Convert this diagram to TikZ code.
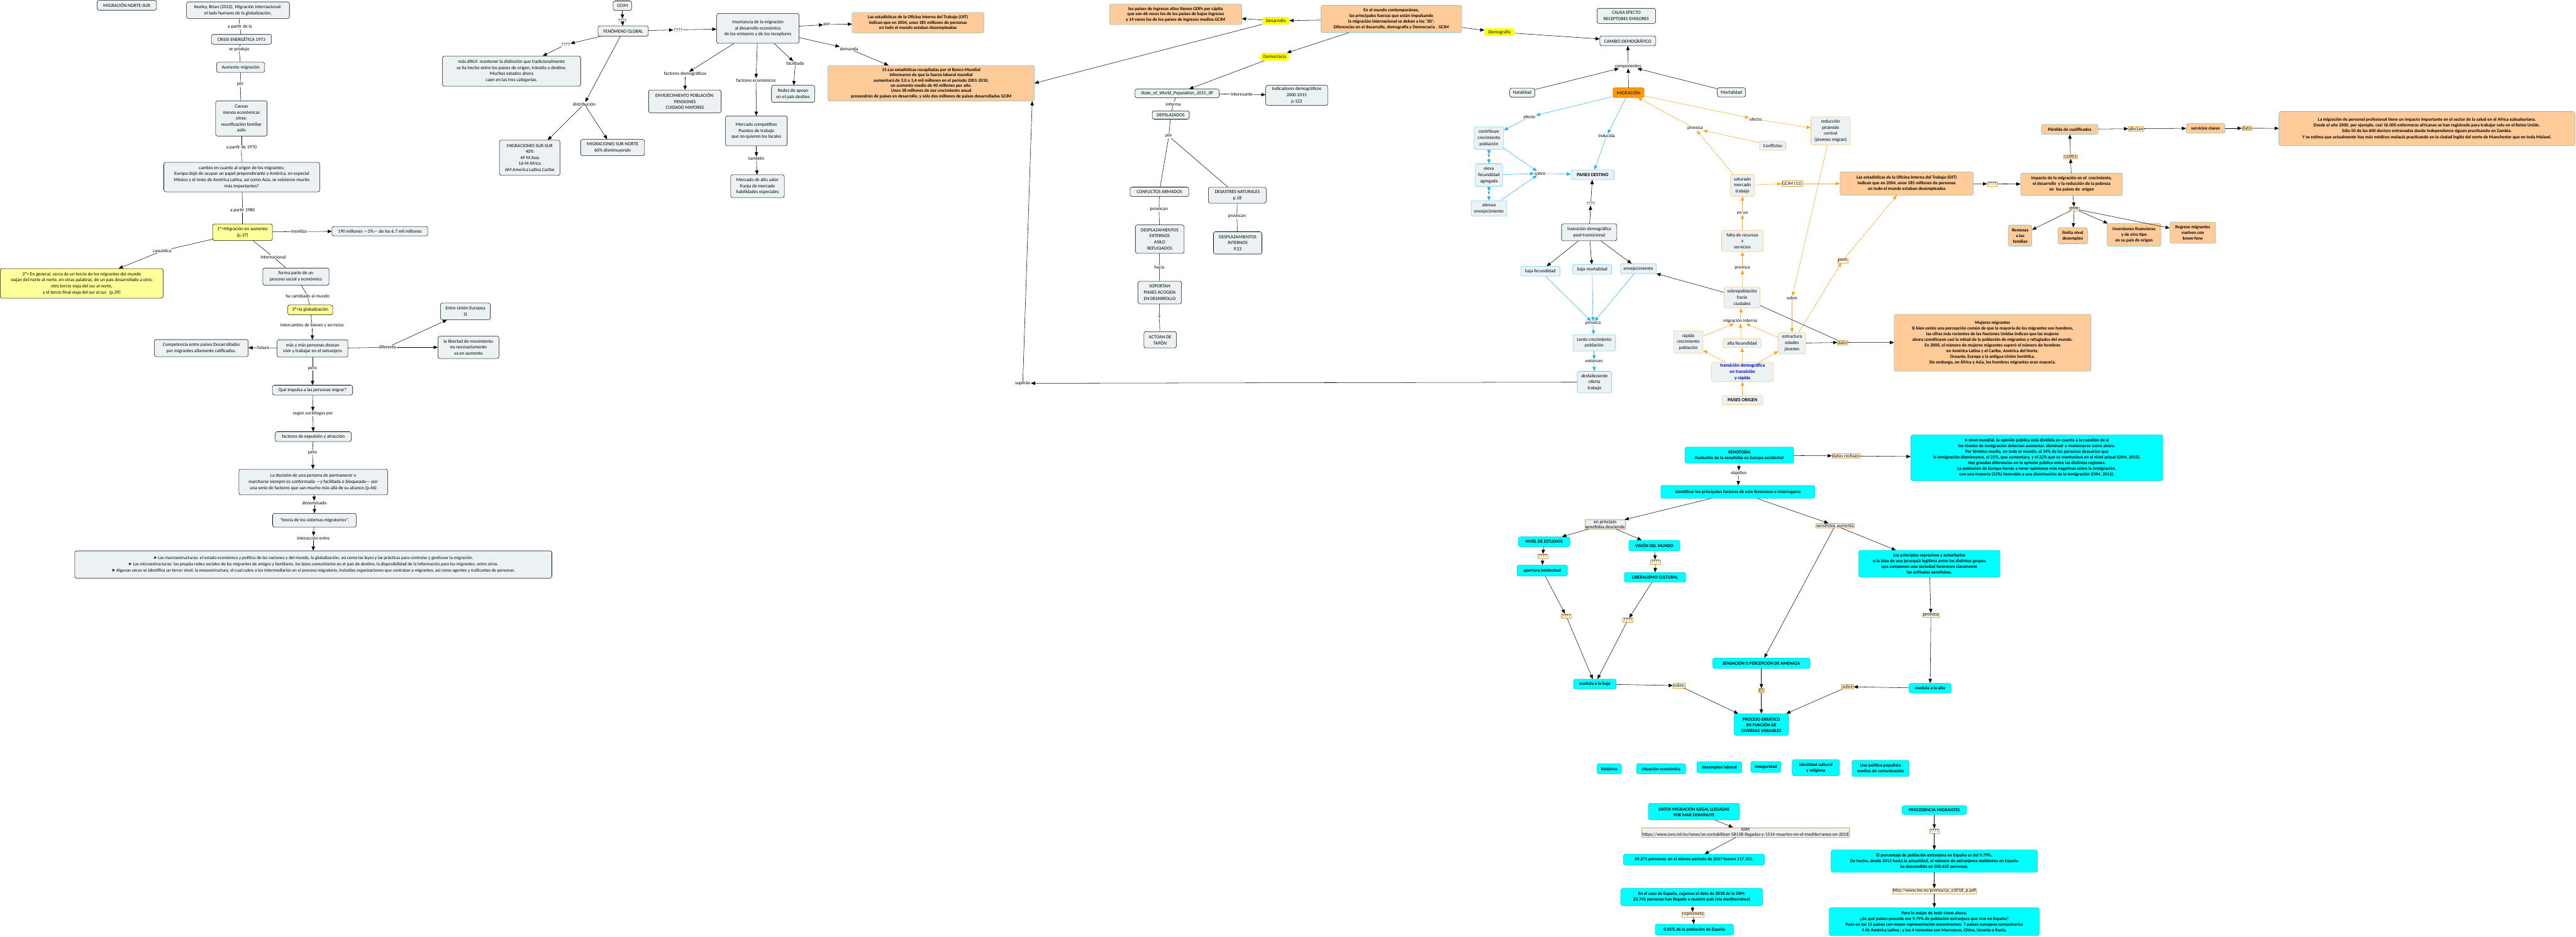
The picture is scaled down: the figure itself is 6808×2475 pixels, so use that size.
\documentclass[tikz,border=0pt]{standalone}
\usepackage{fontspec}
\setmainfont{Carlito}
\newfontfamily\symfont{DejaVu Sans}
\usetikzlibrary{arrows.meta}

\begin{document}
\begin{tikzpicture}[x=1pt,y=-1pt]

	% ============================================================
	% COLORS
	% ============================================================
	\definecolor{paleBlue}{HTML}{ECF2F4}
	\definecolor{paleYellow}{HTML}{FFFF99}
	\definecolor{brightYellow}{HTML}{FFFF00}
	\definecolor{peach}{HTML}{FFCC99}
	\definecolor{tealStroke}{HTML}{5BC0C8}
	\definecolor{cyanFill}{HTML}{00FFFF}
	\definecolor{cyanStroke}{HTML}{00C8D8}
	\definecolor{blueLine}{HTML}{1FB5F0}
	\definecolor{orangeLine}{HTML}{FFA31A}
	\definecolor{blueStroke}{HTML}{5BCBF5}
	\definecolor{orangeStroke}{HTML}{FFC45C}
	\definecolor{migFill}{HTML}{FF9900}
	\definecolor{migStroke}{HTML}{B86E00}
	\definecolor{tagFill}{HTML}{FFFFF2}
	\definecolor{tagStroke}{HTML}{E6A23C}
	\definecolor{deepBlue}{HTML}{0000CC}

	% ============================================================
	% STYLES
	% ============================================================
	\tikzset{
		sz/.style 2 args={minimum width=#1pt, minimum height=#2pt},
		base/.style={rounded corners=5pt, align=center, inner sep=2pt, line width=0.9pt,
			font=\fontsize{12.5}{16}\selectfont},
		gbox/.style={base, draw=black, fill=paleBlue},
		ybox/.style={gbox, fill=paleYellow},
		hbox/.style={base, draw=none, fill=brightYellow},
		bbox/.style={gbox, draw=blueStroke},
		rbox/.style={gbox, draw=orangeStroke},
		migbox/.style={base, draw=migStroke, fill=migFill},
		obox/.style={base, draw=tealStroke, fill=peach, font=\bfseries\fontsize{12}{15}\selectfont},
		cbox/.style={base, draw=cyanStroke, fill=cyanFill, font=\bfseries\fontsize{12}{15}\selectfont},
		lbl/.style={fill=white, inner sep=1pt, align=center, font=\fontsize{12.5}{15}\selectfont},
		tag/.style={lbl, draw=tagStroke, fill=tagFill, inner sep=1.5pt, line width=0.6pt},
		gtag/.style={tag, fill=paleBlue},
		ln/.style={line width=0.9pt, draw=black},
		arr/.style={ln, -{Triangle[length=11pt,width=9pt]}},
		barr/.style={arr, draw=blueLine},
		oarr/.style={arr, draw=orangeLine}
	}

	\useasboundingbox (0,0) rectangle (6808,2475);

	% ============================================================
	% LEFT TREE - NORTE-SUR
	% ============================================================
	\node[gbox, sz={157}{26}] (nortesur) at (335,14) {MIGRACIÓN NORTE-SUR};
	\node[gbox, sz={272}{44}] (keeley) at (629,27) {Keeley, Brian (2012), Migración internacional:\\el lado humano de la globalización,};
	\node[gbox, sz={159}{26}] (crisis) at (638,104) {CRISIS ENERGÉTICA 1973};
	\node[gbox, sz={127}{27}] (aumento) at (636,178) {Aumento migración};
	\node[gbox, sz={136}{93}] (causas) at (638,313) {Causas\\menos económicas\\otras:\\reunificación familiar\\asilo};
	\node[gbox, sz={412}{78}] (origen) at (639,468) {cambio en cuanto al origen de los migrantes:\\Europa dejó de ocupar un papel preponderante y América, en especial\\México y el resto de América Latina, así como Asia, se volvieron mucho\\más importantes?};
	\node[ybox, sz={158}{44}] (primero) at (641,614) {1º=Migración en aumento\\(p.37)};
	\node[gbox, sz={253}{25}] (millones) at (1004,611) {190 millones —3\%— de los 6.7 mil millones};
	\node[ybox, sz={431}{78}] (segundo) at (216,749) {2º= En general, cerca de un tercio de los migrantes del mundo\\viajan del norte al norte, en otras palabras, de un país desarrollado a otro;\\otro tercio viaja del sur al norte,\\y el tercio final viaja del sur al sur.\ \ (p.39)};
	\node[gbox, sz={175}{45}] (proceso) at (782,731) {forma parte de un\\proceso social y económico};
	\node[ybox, sz={119}{26}] (tercero) at (820,819) {3º=la globalización};
	\node[gbox, sz={187}{46}] (desean) at (826,921) {más y más personas desean\\vivir y trabajar en el extranjero};
	\node[gbox, sz={248}{45}] (competencia) at (532,920) {Competencia entre paises Desarrollados\\por migrantes altamente calificados.};
	\node[gbox, sz={132}{44}] (ue) at (1230,823) {Entre Unión Europea\\SI};
	\node[gbox, sz={161}{59}] (libertad) at (1238,918) {la libertad de movimiento\\no necesariamente\\va en aumento};
	\node[gbox, sz={212}{26}] (impulsa) at (826,1031) {Qué impulsa a las personas migrar?};
	\node[gbox, sz={201}{26}] (factores) at (828,1154) {factores de expulsión y atracción};
	\node[gbox, sz={393}{68}] (decision) at (828,1274) {La decisión de una persona de permanecer o\\marcharse siempre es conformada —y facilitada o bloqueada— por\\una serie de factores que van mucho más allá de su alcance.(p.46)};
	\node[gbox, sz={221}{36}] (teoria) at (831,1375) {“teoría de los sistemas migratorios”.};
	\node[gbox, sz={1261}{72}, font=\fontsize{12}{16.5}\selectfont] (estructuras) at (828,1492) {{\symfont ➤} Las macroestructuras: el estado económico y político de las naciones y del mundo, la globalización, así como las leyes y las prácticas para controlar y gestionar la migración.\\{\symfont ➤} Las microestructuras: las propias redes sociales de los migrantes de amigos y familiares, los lazos comunitarios en el país de destino, la disponibilidad de la información para los migrantes, entre otras.\\{\symfont ➤} Algunas veces se identifica un tercer nivel, la mesoestructura, el cual cubre a los intermediarios en el proceso migratorio, incluidas organizaciones que contratan a migrantes, así como agentes y traficantes de personas.};

	% LABELS - LEFT TREE
	\node[lbl] (lA) at (634,70) {a partir de la};
	\node[lbl] (lB) at (632,130) {se produjo};
	\node[lbl] (lC) at (635,224) {por};
	\node[lbl] (lD) at (638,390) {a partir de 1970};
	\node[lbl] (lE) at (641,556) {a partir 1980};
	\node[lbl] (lF) at (790,612) {moviliza};
	\node[lbl] (lG) at (429,663) {casuística};
	\node[lbl] (lH) at (722,679) {internacional};
	\node[lbl] (lI) at (813,782) {ha cambiado al mundo};
	\node[lbl] (lJ) at (825,860) {intercambio de bienes y servicios};
	\node[lbl] (lK) at (696,919) {futuro};
	\node[lbl] (lL) at (1024,918) {diferente};
	\node[lbl] (lM) at (826,974) {pero};
	\node[lbl] (lN) at (827,1093) {según sociólogos por};
	\node[lbl] (lO) at (826,1197) {pero};
	\node[lbl] (lP) at (831,1329) {denominado};
	\node[lbl] (lQ) at (828,1422) {interacción entre};

	% ARROWS - LEFT TREE
	\draw[ln] (keeley) -- (lA); \draw[ln] (lA) -- (crisis);
	\draw[ln] (crisis) -- (lB); \draw[ln] (lB) -- (aumento);
	\draw[ln] (aumento) -- (lC); \draw[ln] (lC) -- (causas);
	\draw[ln] (causas) -- (lD); \draw[ln] (lD) -- (origen);
	\draw[ln] (origen) -- (lE); \draw[ln] (lE) -- (primero);
	\draw[ln] (primero) -- (lF); \draw[arr] (lF) -- (millones);
	\draw[ln] (primero) -- (lG); \draw[arr] (lG) -- (segundo);
	\draw[ln] (primero) -- (lH); \draw[ln] (lH) -- (proceso);
	\draw[ln] (proceso) -- (lI); \draw[ln] (lI) -- (tercero);
	\draw[ln] (tercero) -- (lJ); \draw[arr] (lJ) -- (desean);
	\draw[ln] (desean) -- (lK); \draw[arr] (lK) -- (competencia);
	\draw[ln] (desean) -- (lL); \draw[arr] (lL) -- (ue); \draw[arr] (lL) -- (libertad);
	\draw[ln] (desean) -- (lM); \draw[arr] (lM) -- (impulsa);
	\draw[arr] (impulsa) -- (lN); \draw[arr] (lN) -- (factores);
	\draw[ln] (factores) -- (lO); \draw[arr] (lO) -- (decision);
	\draw[arr] (decision) -- (lP); \draw[arr] (lP) -- (teoria);
	\draw[arr] (teoria) -- (lQ); \draw[arr] (lQ) -- (estructuras);

	% ============================================================
	% MIDDLE - FENOMENO GLOBAL
	% ============================================================
	\node[gbox, sz={49}{25}] (gcim) at (1645,15) {GCIM};
	\node[gbox, sz={133}{27}] (global) at (1647,82) {FENÓMENO GLOBAL};
	\node[gbox, sz={365}{80}] (distincion) at (1352,188) {más difícil\ \ mantener la distinción que tradicionalmente\\se ha hecho entre los países de origen, tránsito y destino.\\Muchos estados ahora\\caen en las tres categorías.};
	\node[gbox, sz={160}{93}] (sursur) at (1400,417) {MIGRACIONES SUR-SUR\\40\%\\49 M Asia\\16 M Africa\\6M America Latina Caribe};
	\node[gbox, sz={169}{43}] (surnorte) at (1619,390) {MIGRACIONES SUR-NORTE\\60\% disminuyendo};
	\node[gbox, sz={218}{79}] (importancia) at (2003,75) {Imortancia de la migración\\al desarrollo económico\\de los emisores y de los receptores};
	\node[gbox, sz={192}{60}] (envejec) at (1810,268) {ENVEJECIMIENTO POBLACIÓN:\\PENSIONES\\CUIDADO MAYORES};
	\node[gbox, sz={163}{79}] (competitivo) at (1999,346) {Mercado competitivo\\Puestos de trabajo\\que no quieren los locales};
	\node[gbox, sz={142}{60}] (altovalor) at (2002,492) {Mercado de alto valor\\franja de mercado\\habilidades especiales};
	\node[gbox, sz={114}{45}] (redes) at (2096,248) {Redes de apoyo\\en el pais destino};

	% LABELS - MIDDLE
	\node[lbl] (lm1) at (1645,55) {????};
	\node[lbl] (lm2) at (1495,118) {????};
	\node[lbl] (lm3) at (1544,275) {distribución};
	\node[lbl] (lm4) at (1792,79) {????};
	\node[lbl] (lm5) at (2185,65) {por};
	\node[lbl] (lm6) at (1811,196) {factores demográficos};
	\node[lbl] (lm7) at (1998,212) {factores económicos};
	\node[lbl] (lm8) at (1999,419) {también};
	\node[lbl] (lm9) at (2102,167) {facilitado};
	\node[lbl] (lm10) at (2244,129) {demanda};

	% ARROWS - MIDDLE
	\draw[arr] (gcim) -- (lm1); \draw[arr] (lm1) -- (global);
	\draw[arr] (global) -- (lm2); \draw[arr] (lm2) -- (distincion);
	\draw[arr] (global) -- (lm3); \draw[arr] (lm3) -- (sursur); \draw[arr] (lm3) -- (surnorte);
	\draw[arr] (global) -- (lm4); \draw[arr] (lm4) -- (importancia);
	\draw[arr] (importancia) -- (lm6); \draw[arr] (lm6) -- (envejec);
	\draw[arr] (importancia) -- (lm7); \draw[arr] (lm7) -- (competitivo);
	\draw[arr] (competitivo) -- (lm8); \draw[arr] (lm8) -- (altovalor);
	\draw[arr] (importancia) -- (lm9); \draw[arr] (lm9) -- (redes);

	% ============================================================
	% TOP - ESTADISTICAS (ORANGE) AND 3D
	% ============================================================
	\node[obox, sz={348}{54}, font=\bfseries\fontsize{12}{14}\selectfont] (oit) at (2426,60) {Las estadísticas de la Oficina Interna del Trabajo (OIT)\\indican que en 2004, unos 185 millones de personas\\en todo el mundo estaban desempleadas};
	\node[obox, sz={545}{94}, font=\bfseries\fontsize{12}{14}\selectfont] (banco) at (2461,220) {15.Las estadísticas recopiladas por el Banco Mundial\\informaron de que la fuerza laboral mundial\\aumentará de 3,0 a 3,4 mil millones en el período 2001-2010,\\un aumento medio de 40 millones por año.\\Unos 38 millones de ese crecimiento anual\\provendrán de países en desarrollo, y sólo dos millones de países desarrolladas GCIM};
	\node[obox, sz={349}{54}, font=\bfseries\fontsize{12}{14}\selectfont] (gdp) at (3107,38) {los países de ingresos altos tienen GDPs per cápita\\que son 66 veces los de los países de bajos ingresos\\y 14 veces los de los países de ingresos medios.GCIM};
	\node[obox, sz={372}{72}] (tresd) at (3677,50) {En el mundo contemporáneo,\\las principales fuerzas que están impulsando\\la migración internacional se deben a los '3D':\\Diferencias en el desarrollo, demografía y Democracia . GCIM};
	\node[hbox, sz={70}{20}] (desarrollo) at (3372,55) {Desarrollo};
	\node[hbox, sz={75}{20}] (democracia) at (3369,150) {Democracia};
	\node[hbox, sz={79}{20}] (demografia) at (3963,85) {Demografía};

	\draw[arr] (importancia) -- (lm5); \draw[arr] (lm5) -- (oit);
	\draw[arr] (importancia) -- (lm10); \draw[arr] (lm10) -- (banco);
	\draw[arr] (tresd) -- (desarrollo);
	\draw[arr] (desarrollo) -- (gdp);
	\draw[arr] (desarrollo) -- (banco.east);
	\draw[arr] (tresd) -- (democracia);
	\draw[arr] (tresd) -- (demografia);

	% ============================================================
	% DESPLAZADOS
	% ============================================================
	\node[gbox, sz={222}{23}] (sowp) at (3111,247) {State\_of\_World\_Population\_2015\_SP};
	\node[gbox, sz={164}{53}] (indicadores) at (3427,252) {Indicadores demográficos\\2000 2015\\p.122};
	\node[gbox, sz={98}{22}] (desplazados) at (3094,304) {DEPSLAZADOS};
	\node[gbox, sz={155}{25}] (conflictos) at (3064,507) {CONFLICTOS ARMADOS};
	\node[gbox, sz={153}{42}] (desastres) at (3270,516) {DESASTRES NATURALES\\p.18};
	\node[gbox, sz={129}{75}] (externos) at (3065,632) {DESPLAZAMIENTOS\\EXTERNOS\\ASILO\\REFUGIADOS};
	\node[gbox, sz={128}{59}] (internos) at (3271,642) {DESPLAZAMIENTOS\\INTERNOS\\P.23};
	\node[gbox, sz={115}{60}] (soportan) at (3065,773) {SOPORTAN\\PIASES ACOGIDA\\EN DESARROLLO};
	\node[gbox, sz={86}{43}] (tapon) at (3066,898) {ACTÚAN DE\\TAPÓN};

	\node[lbl] (ls1) at (3282,249) {interesante};
	\node[lbl] (ls2) at (3101,275) {informa};
	\node[lbl] (ls3) at (3089,360) {por};
	\node[lbl] (ls4) at (3063,554) {provocan};
	\node[lbl] (ls5) at (3269,573) {provocan};
	\node[lbl] (ls6) at (3064,706) {hacia};
	\node[lbl] (ls7) at (3064,838) {y};
	\node[lbl] (lsup) at (2703,1013) {suplirán};

	\draw[arr] (democracia) -- (sowp);
	\draw[ln] (sowp) -- (ls1); \draw[arr] (ls1) -- (indicadores);
	\draw[ln] (sowp) -- (ls2); \draw[ln] (ls2) -- (desplazados);
	\draw[ln] (desplazados) -- (ls3); \draw[ln] (ls3) -- (conflictos); \draw[ln] (ls3) -- (desastres);
	\draw[ln] (conflictos) -- (ls4); \draw[ln] (ls4) -- (externos);
	\draw[ln] (desastres) -- (ls5); \draw[ln] (ls5) -- (internos);
	\draw[ln] (externos) -- (ls6); \draw[ln] (ls6) -- (soportan);
	\draw[ln] (soportan) -- (ls7); \draw[ln] (ls7) -- (tapon);

	% ============================================================
	% RIGHT - CAMBIO DEMOGRAFICO
	% ============================================================
	\node[gbox, sz={155}{40}] (causaefecto) at (4298,42) {CAUSA EFECTO\\RECEPTORES EMISORES};
	\node[gbox, sz={148}{26}] (cambio) at (4302,108) {CAMBIO DEMOGRÁFICO};
	\node[gbox, sz={66}{24}] (natalidad) at (4023,245) {Natalidad};
	\node[migbox, sz={82}{26}] (migracion) at (4304,245) {MIGRACIÓN};
	\node[gbox, sz={75}{24}] (mortalidad) at (4576,244) {Mortalidad};
	\node[bbox, sz={78}{59}] (contribuye) at (3935,365) {contribuye\\crecimiento\\población};
	\node[bbox, sz={72}{60}] (eleva) at (3935,463) {eleva\\fecundidad\\agregada};
	\node[bbox, sz={94}{41}] (atenua) at (3935,551) {atenua\\envejecimiento};
	\node[bbox, sz={114}{26}, font=\bfseries\fontsize{12.5}{16}\selectfont] (destino) at (4209,462) {PAISES DESTINO};
	\node[gbox, sz={146}{45}] (posttrans) at (4200,614) {transición demográfica\\post-transicional};
	\node[bbox, sz={104}{26}] (bajafec) at (4071,717) {baja fecundidad};
	\node[bbox, sz={103}{26}] (bajamort) at (4208,712) {baja mortalidad};
	\node[bbox, sz={94}{26}] (envej) at (4330,710) {envejecimiento};
	\node[bbox, sz={112}{43}] (lento) at (4213,906) {Lento crecimiento\\población};
	\node[bbox, sz={91}{57}] (desfall) at (4214,1010) {desfalleciente\\oferta\\trabajo};
	\node[rbox, sz={104}{74}] (reduccion) at (4838,346) {reducción\\pirámide\\central\\(jóvenes migran)};
	\node[rbox, sz={69}{25}] (conflict) at (4685,385) {Conflictos};
	\node[rbox, sz={63}{58}] (saturado) at (4605,490) {saturado\\mercado\\trabajo};
	\node[rbox, sz={110}{56}] (falta) at (4605,637) {falta de recursos\\y\\servicios};
	\node[rbox, sz={95}{56}] (sobrepob) at (4604,786) {sobrepoblación\\hacia\\ciudades};
	\node[rbox, sz={78}{59}] (rapido) at (4462,904) {rápido\\crecimiento\\población};
	\node[rbox, sz={101}{24}] (altafec) at (4604,907) {alta fecundidad};
	\node[rbox, sz={72}{56}] (jovenes) at (4736,907) {estructura\\edades\\jóvenes};
	\node[rbox, sz={164}{51}, text=deepBlue, font=\bfseries\fontsize{12.5}{16}\selectfont] (rapida) at (4605,983) {transición demográfica\\en transición\\y rápida};
	\node[rbox, sz={108}{24}, font=\bfseries\fontsize{12.5}{16}\selectfont] (paisorigen) at (4605,1058) {PAISES ORIGEN};
	\node[obox, sz={352}{62}] (oit2) at (5039,485) {Las estadísticas de la Oficina Interna del Trabajo (OIT)\\indican que en 2004, unos 185 millones de personas\\en todo el mundo estaban desempleadas};
	\node[obox, sz={520}{150}] (mujeres) at (5266,906) {Mujeres migrantes\\Si bien existe una percepción común de que la mayoría de los migrantes son hombres,\\las cifras más recientes de las Naciones Unidas indican que las mujeres\\ahora constituyen casi la mitad de la población de migrantes y refugiados del mundo.\\En 2000, el número de mujeres migrantes superó el número de hombres\\en América Latina y el Caribe, América del Norte,\\Oceanía, Europa y la antigua Unión Soviética.\\Sin embargo, en África y Asia, los hombres migrantes eran mayoría.};

	% LABELS - RIGHT
	\node[lbl] (lr1) at (4303,175) {componentes};
	\node[lbl] (lr2) at (4042,309) {efecto};
	\node[lbl] (lr3) at (3935,413) {y};
	\node[lbl] (lr4) at (3935,511) {y};
	\node[lbl] (lr5) at (4070,458) {sobre};
	\node[lbl] (lr6) at (4246,359) {inducida};
	\node[lbl] (lr7) at (4204,538) {????};
	\node[lbl] (lr8) at (4210,854) {provoca};
	\node[lbl] (lr9) at (4213,955) {entonces};
	\node[lbl] (lr10) at (4640,315) {efecto};
	\node[lbl] (lr11) at (4480,340) {provoca};
	\node[tag] (lr12) at (4736,485) {GCIM (11)};
	\node[lbl] (lr13) at (4605,563) {en un};
	\node[lbl] (lr14) at (4605,708) {provoca};
	\node[lbl] (lr15) at (4599,849) {migración interna};
	\node[lbl] (lr16) at (4736,788) {sobre};
	\node[tag] (lr17) at (4870,689) {pero};
	\node[tag] (lr18) at (4869,905) {dato};

	% ARROWS - RIGHT
	\draw[arr] (demografia) -- (cambio);
	\draw[arr] (natalidad) -- (lr1); \draw[arr] (migracion) -- (lr1); \draw[arr] (mortalidad) -- (lr1);
	\draw[arr] (lr1) -- (cambio);
	\draw[barr] (migracion) -- (lr2); \draw[barr] (lr2) -- (contribuye);
	\draw[barr] (contribuye) -- (lr3); \draw[barr] (lr3) -- (eleva);
	\draw[barr] (eleva) -- (lr4); \draw[barr] (lr4) -- (atenua);
	\draw[barr] (contribuye) -- (lr5); \draw[barr] (eleva) -- (lr5); \draw[barr] (atenua) -- (lr5);
	\draw[barr] (lr5) -- (destino);
	\draw[barr] (migracion) -- (lr6); \draw[barr] (lr6) -- (destino);
	\draw[arr] (posttrans) -- (lr7); \draw[arr] (lr7) -- (destino);
	\draw[arr] (posttrans) -- (bajafec); \draw[arr] (posttrans) -- (bajamort); \draw[arr] (posttrans) -- (envej);
	\draw[barr] (bajafec) -- (lr8); \draw[barr] (bajamort) -- (lr8); \draw[barr] (envej) -- (lr8);
	\draw[barr] (lr8) -- (lento);
	\draw[barr] (lento) -- (lr9); \draw[barr] (lr9) -- (desfall);
	\draw[arr] (desfall) -- (lsup); \draw[arr] (lsup) -- ([xshift=-6pt]banco.south east);
	\draw[oarr] (migracion) -- (lr10); \draw[oarr] (lr10) -- (reduccion);
	\draw[oarr] (conflict) -- (lr11); \draw[oarr] (saturado) -- (lr11); \draw[oarr] (lr11) -- (migracion);
	\draw[oarr] (saturado) -- (lr12); \draw[oarr] (lr12) -- (oit2);
	\draw[oarr] (falta) -- (lr13); \draw[oarr] (lr13) -- (saturado);
	\draw[oarr] (sobrepob) -- (lr14); \draw[oarr] (lr14) -- (falta);
	\draw[arr] (sobrepob) -- (envej);
	\draw[oarr] (rapido) -- (lr15); \draw[oarr] (altafec) -- (lr15); \draw[oarr] (jovenes) -- (lr15);
	\draw[oarr] (lr15) -- (sobrepob);
	\draw[oarr] (rapida) -- (rapido); \draw[oarr] (rapida) -- (altafec); \draw[oarr] (rapida) -- (jovenes);
	\draw[oarr] (paisorigen) -- (rapida);
	\draw[oarr] (reduccion) -- (lr16); \draw[oarr] (lr16) -- (jovenes);
	\draw[oarr] (jovenes) -- (lr17); \draw[oarr] (lr17) -- (oit2);
	\draw[arr] (jovenes) -- (lr18); \draw[ln] (sobrepob) -- (lr18); \draw[arr] (lr18) -- (mujeres);

	% ============================================================
	% FAR RIGHT - IMPACTO EN ORIGEN
	% ============================================================
	\node[obox, sz={269}{59}] (impacto) at (5475,487) {impacto de la migración en el\ \ crecimiento,\\el desarrollo\ \ y la reducción de la pobreza\\en\ \ los países de\ \ origen};
	\node[obox, sz={150}{26}] (perdida) at (5470,342) {Pérdida de cualificados};
	\node[obox, sz={102}{26}] (servicios) at (5829,339) {servicios claves};
	\node[obox, sz={782}{90}] (salud) at (6414,340) {La migración de personal profesional tiene un impacto importante en el sector de la salud en el Africa subsahariana.\\Desde el año 2000, por ejemplo, casi 16.000 enfermeras africanas se han registrado para trabajar solo en el Reino Unido.\\Sólo 50 de los 600 doctors entrenados desde Independence siguen practicando en Zambia.\\Y se estima que actualmente hay más médicos malauis practicando en la ciudad inglés del norte de Manchester que en toda Malawi.};
	\node[obox, sz={62}{56}] (remesas) at (5339,623) {Remesas\\a las\\familias};
	\node[obox, sz={78}{43}] (limita) at (5478,623) {limita nivel\\desempleo};
	\node[obox, sz={142}{60}] (inversiones) at (5640,621) {inversiones financieras\\y de otro tipo\\en su país de origen};
	\node[obox, sz={121}{56}] (regreso) at (5795,615) {Regreso migrantes\\vuelven con\\know-how};

	\node[tag] (lr19) at (5265,486) {????};
	\node[tag] (lr20) at (5472,414) {contra};
	\node[tag] (lr21) at (5645,340) {afectan};
	\node[tag] (lr22) at (5938,339) {dato};
	\node[tag] (lr23) at (5482,552) {pros};

	\draw[arr] (oit2) -- (lr19); \draw[arr] (lr19) -- (impacto);
	\draw[arr] (impacto) -- (lr20); \draw[arr] (lr20) -- (perdida);
	\draw[arr] (perdida) -- (lr21); \draw[arr] (lr21) -- (servicios);
	\draw[arr] (servicios) -- (lr22); \draw[arr] (lr22) -- (salud);
	\draw[arr] (impacto) -- (lr23);
	\draw[arr] (lr23) -- (remesas); \draw[arr] (lr23) -- (limita);
	\draw[arr] (lr23) -- (inversiones); \draw[arr] (lr23) -- (regreso);

	% ============================================================
	% LOWER - XENOFOBIA
	% ============================================================
	\node[cbox, sz={287}{43}] (xenofobia) at (4597,1203) {XENOFOBIA\\Evolución de la xenofobia en Europa occidental};
	\node[cbox, sz={666}{121}] (opinion) at (5383,1210) {A nivel mundial, la opinión pública está dividida en cuanto a la cuestión de si\\los niveles de inmigración deberían aumentar, disminuir o mantenerse como ahora.\\Por término medio, en todo el mundo, el 34\% de las personas desearían que\\la inmigración disminuyera, el 21\%, que aumentara, y el 22\% que se mantuviera en el nivel actual (OIM, 2015).\\Hay grandes diferencias en la opinión pública entre las distintas regiones.\\La población de Europa tiende a tener opiniones más negativas sobre la inmigración,\\con una mayoría (52\%) favorable a una disminución de la inmigración (OIM, 2015).};
	\node[cbox, sz={407}{34}] (identificar) at (4593,1300) {identificar los principales factores de este fenómeno e interrogarse};
	\node[cbox, sz={136}{26}] (estudios) at (4081,1432) {NIVEL DE ESTUDIOS};
	\node[cbox, sz={135}{28}] (vision) at (4372,1442) {VISIÓN DEL MUNDO};
	\node[cbox, sz={133}{29}] (apertura) at (4076,1508) {apertura intelectual};
	\node[cbox, sz={162}{26}] (liberalismo) at (4374,1526) {LIBERALISMO CULTURAL};
	\node[cbox, sz={113}{26}] (baja) at (4215,1808) {modula a la baja};
	\node[cbox, sz={257}{28}] (amenaza) at (4655,1753) {SENSACIÓN O PERCEPCIÓN DE AMENAZA};
	\node[cbox, sz={144}{57}] (erratico) at (4655,1915) {PROCESO ERRÁTICO\\EN FUNCIÓN DE\\DIVERSAS VARIABLES};
	\node[cbox, sz={373}{71}] (represivos) at (5099,1490) {Los principios represivos y autoritarios\\o la idea de una jerarquía legítima entre los distintos grupos\\que componen una sociedad favorecen claramente\\las actitudes xenófobas.};
	\node[cbox, sz={111}{26}] (alta) at (5101,1819) {modula a la alta};

	\node[cbox, sz={65}{27}] (historico) at (4253,2032) {histórico};
	\node[cbox, sz={130}{27}] (situacion) at (4390,2032) {situación económica};
	\node[cbox, sz={119}{30}] (desempleo) at (4544,2028) {desempleo laboral};
	\node[cbox, sz={80}{29}] (inseguridad) at (4667,2027) {inseguridad};
	\node[cbox, sz={125}{43}] (identidad) at (4799,2029) {identidad cultural\\y religiosa};
	\node[cbox, sz={151}{43}] (populista) at (4970,2031) {Uso política populista\\medios de comunicación};

	\node[cbox, sz={241}{44}] (ilegal) at (4477,2145) {DATOS MIGRACIÓN ILEGAL LLEGADAS\\POR MAR DISMINUYE};
	\node[cbox, sz={373}{29}] (llegadas) at (4477,2272) {59.271 personas; en el mismo período de 2017 fueron 117.102.};
	\node[cbox, sz={375}{46}] (espana) at (4471,2371) {En el caso de España, cojamos el dato de 2018 de la OIM:\\23.741 personas han llegado a nuestro país (vía mediterránea)};
	\node[cbox, sz={207}{29}] (porcentaje) at (4478,2457) {0.05\% de la población de España};
	\node[cbox, sz={170}{24}] (procedencia) at (5112,2141) {PROCEDENCIA MIGRANTES};
	\node[cbox, sz={545}{59}] (extranjera) at (5112,2276) {El porcentaje de población extranjera en España es del 9.79\%.\\De hecho, desde 2013 hasta la actualidad, el número de extranjeros residentes en España\\ha descendido en 500.625 personas.};
	\node[cbox, sz={555}{74}] (paises) at (5112,2436) {Pero lo mejor de todo viene ahora:\\¿de qué países procede ese 9.79\% de población extranjera que vive en España?\\Pues en los 15 países con mayor representación encontramos: 7 países europeos comunitarios\\4 de América Latina ; y los 4 restantes son Marruecos, China, Ucrania y Rusia.};

	% LABELS - LOWER
	\node[tag] (lx1) at (4878,1205) {datos rechazo};
	\node[lbl] (lx2) at (4595,1250) {objetivo};
	\node[gtag, font=\fontsize{12.5}{13}\selectfont] (lx3) at (4242,1386) {en principio\\xenofobia desciende};
	\node[tag] (lx4) at (4850,1389) {xenofobia aumenta};
	\node[tag] (lx5) at (4077,1470) {????};
	\node[tag] (lx6) at (4375,1485) {????};
	\node[tag] (lx7) at (4139,1628) {????};
	\node[tag] (lx8) at (4302,1639) {????};
	\node[tag] (lx9) at (4437,1812) {sobre};
	\node[tag] (lx10) at (4655,1825) {ES};
	\node[tag] (lx11) at (5103,1626) {provoca};
	\node[tag] (lx12) at (4883,1815) {sobre};
	\node[gtag, font=\fontsize{12.5}{13}\selectfont] (ld1) at (4613,2200) {IOM\\https://www.iom.int/es/news/se-contabilizan-58158-llegadas-y-1514-muertes-en-el-mediterraneo-en-2018};
	\node[tag] (ld2) at (4474,2417) {represneta};
	\node[tag] (lp1) at (5112,2196) {????};
	\node[tag] (lp2) at (5112,2355) {http://www.ine.es/prensa/cp\_e2018\_p.pdf};

	% ARROWS - LOWER
	\draw[arr] (xenofobia) -- (lx1); \draw[arr] (lx1) -- (opinion);
	\draw[arr] (xenofobia) -- (lx2); \draw[arr] (lx2) -- (identificar);
	\draw[arr] (identificar) -- (lx3); \draw[arr] (lx3) -- (estudios); \draw[arr] (lx3) -- (vision);
	\draw[arr] (identificar) -- (lx4); \draw[arr] (lx4) -- (amenaza); \draw[arr] (lx4) -- (represivos);
	\draw[arr] (estudios) -- (lx5); \draw[arr] (lx5) -- (apertura);
	\draw[arr] (vision) -- (lx6); \draw[arr] (lx6) -- (liberalismo);
	\draw[arr] (apertura) -- (lx7); \draw[arr] (lx7) -- (baja);
	\draw[arr] (liberalismo) -- (lx8); \draw[arr] (lx8) -- (baja);
	\draw[arr] (baja) -- (lx9); \draw[arr] (lx9) -- (erratico);
	\draw[arr] (amenaza) -- (lx10); \draw[arr] (lx10) -- (erratico);
	\draw[arr] (represivos) -- (lx11); \draw[arr] (lx11) -- (alta);
	\draw[arr] (alta) -- (lx12); \draw[arr] (lx12) -- (erratico);
	\draw[arr] (ilegal) -- (ld1); \draw[arr] (ld1) -- (llegadas);
	\draw[arr] (espana) -- (ld2); \draw[arr] (ld2) -- (porcentaje);
	\draw[arr] (procedencia) -- (lp1); \draw[arr] (lp1) -- (extranjera);
	\draw[arr, line width=1.6pt] (extranjera) -- (lp2); \draw[arr] (lp2) -- (paises);

\end{tikzpicture}
\end{document}
